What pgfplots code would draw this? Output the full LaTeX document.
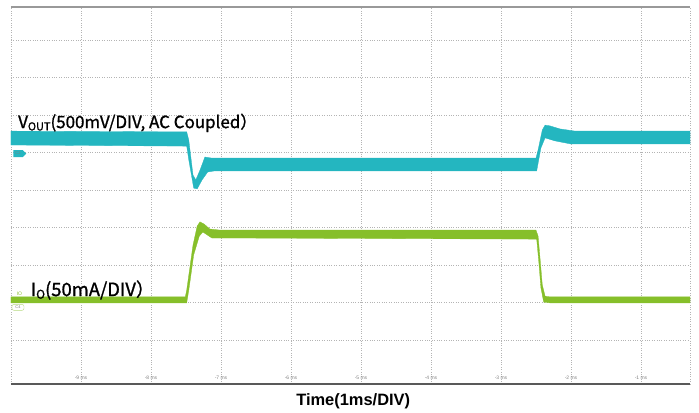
\documentclass[border=0pt]{standalone}
\usepackage{fontspec}
\setmainfont{Liberation Sans}
\newfontfamily\cjk[FakeBold=1.2]{Noto Sans CJK SC}
\usepackage{pgfplots}
\pgfplotsset{compat=1.18}
\usetikzlibrary{shapes.symbols}
\definecolor{vteal}{RGB}{36,182,192}
\definecolor{igreen}{RGB}{134,191,42}
\definecolor{gridc}{RGB}{180,180,180}
\begin{document}
\begin{tikzpicture}
\useasboundingbox (-11bp,-29bp) rectangle (688bp,384bp);
\begin{axis}[
  at={(0,0)}, anchor=south west,
  scale only axis, width=679bp, height=377bp,
  xmin=-10, xmax=-0.3, ymin=-0.173, ymax=9.88,
  xtick={-9,-8,-7,-6,-5,-4,-3,-2,-1},
  xticklabels={-9 ms,-8 ms,-7 ms,-6 ms,-5 ms,-4 ms,-3 ms,-2 ms,-1 ms},
  extra x ticks={-10,-0.3}, extra x tick labels={}, extra x tick style={grid=major},
  ytick={1,2,3,4,5,6,7,8,9}, yticklabels={},
  grid=major, grid style={gridc, dotted, line width=0.7bp},
  major tick length=0,
  axis line style={draw=none},
  xticklabel style={anchor=south, font=\fontsize{5}{6}\selectfont, text=gray, yshift=0.5bp},
  xlabel={\bfseries Time(1ms/DIV)},
  xlabel style={at={(rel axis cs:0.504,0)}, anchor=base, yshift=-21bp, font=\fontsize{16.5}{18}\selectfont},
  clip=false,
]
\draw[black!40, line width=1.5bp] (rel axis cs:0,1) -- (rel axis cs:1,1);
\draw[black!65, line width=1.5bp] (rel axis cs:0,0) -- (rel axis cs:1,0);

% VOUT trace (envelope: upper then lower reversed)
\addplot[draw=vteal, line width=0.3bp, fill=vteal] coordinates {
 (-10,6.57) (-8.73,6.56) (-7.49,6.55) (-7.46,6.33) (-7.40,5.40) (-7.36,5.27) (-7.30,5.53) (-7.23,5.88) (-7.13,5.85)
 (-2.50,5.85) (-2.47,6.07) (-2.41,6.60) (-2.37,6.73) (-2.30,6.71) (-2.16,6.63) (-1.94,6.57) (-0.3,6.57)
 (-0.3,6.23) (-2.01,6.23) (-2.23,6.31) (-2.37,6.39) (-2.43,6.12) (-2.49,5.51) (-7.09,5.51) (-7.19,5.48)
 (-7.27,5.27) (-7.34,5.03) (-7.39,5.05) (-7.46,5.80) (-7.49,6.17) (-10,6.20)
} -- cycle;

% IO trace
\addplot[draw=igreen, line width=0.3bp, fill=igreen] coordinates {
 (-10,2.15) (-7.51,2.15) (-7.49,2.33) (-7.40,3.53) (-7.34,4.04) (-7.30,4.15) (-7.24,4.09) (-7.16,3.96) (-7.01,3.93)
 (-2.50,3.93) (-2.47,3.77) (-2.44,3.13) (-2.41,2.47) (-2.37,2.17) (-2.30,2.15) (-0.3,2.15)
 (-0.3,1.99) (-2.30,1.99) (-2.39,2.01) (-2.43,2.39) (-2.46,3.08) (-2.49,3.69) (-6.87,3.72) (-7.13,3.72)
 (-7.26,3.88) (-7.31,3.77) (-7.39,3.27) (-7.46,2.33) (-7.49,1.99) (-10,1.99)
} -- cycle;

\node[anchor=base west, inner sep=0, font=\cjk\fontsize{17}{18}\selectfont] at (axis cs:-9.9,6.65)
  {V\raisebox{-0.25ex}{\fontsize{11}{12}\selectfont OUT}(500mV/DIV, AC Coupled）};
\node[anchor=base west, inner sep=0, font=\cjk\fontsize{18.5}{19}\selectfont] at (axis cs:-9.72,2.17)
  {I\raisebox{-0.25ex}{\fontsize{12}{13}\selectfont O}(50mA/DIV）};
\node[anchor=base west, inner sep=0, text=igreen, font=\fontsize{5}{6}\selectfont] at (axis cs:-9.92,2.2) {IO};
\node[signal, signal to=east, fill=vteal, inner sep=0.8bp, minimum height=7bp, minimum width=13bp,
  font=\fontsize{4}{5}\selectfont, text=black!50] at (axis cs:-9.9,5.97) {C2};
\node[rectangle, rounded corners=2bp, draw=igreen!60, fill=white, inner sep=0.8bp, minimum height=6bp, minimum width=12bp,
  font=\fontsize{4}{5}\selectfont, text=black!50] at (axis cs:-9.9,1.87) {C4};
\end{axis}
\end{tikzpicture}
\end{document}
